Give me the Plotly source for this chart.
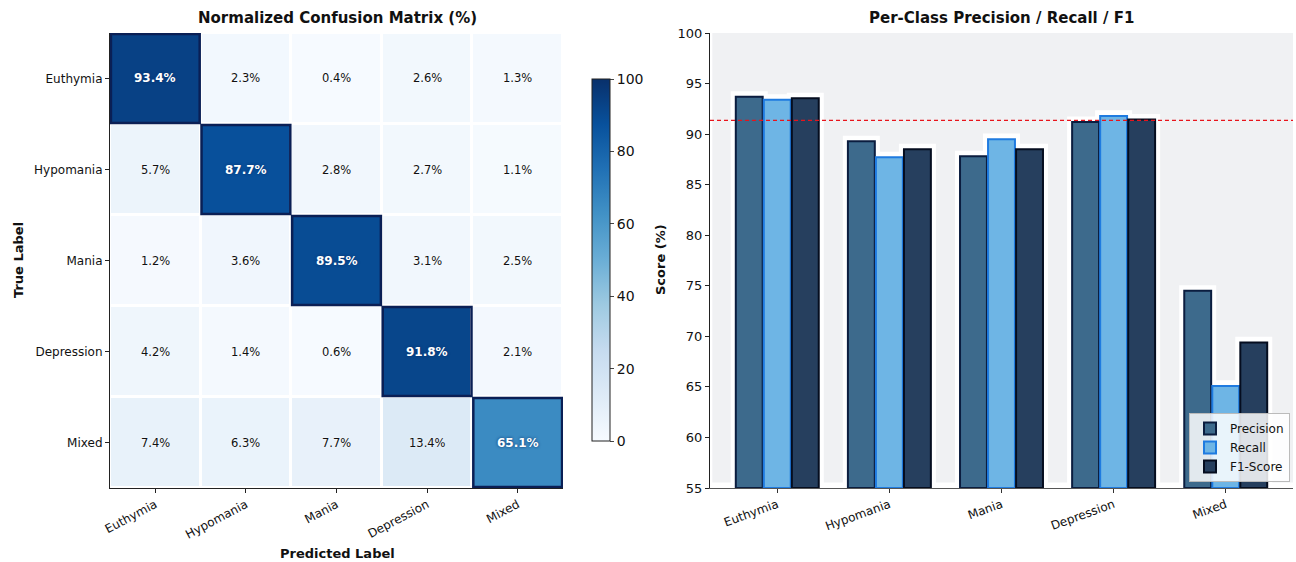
import plotly.graph_objects as go
import plotly.express as px

classes = ["Euthymia", "Hypomania", "Mania", "Depression", "Mixed"]

# Row-normalised confusion matrix (%), rows = true label, cols = predicted label
cm_euthymia = [93.4, 2.3, 0.4, 2.6, 1.3]
cm_hypomania = [5.7, 87.7, 2.8, 2.7, 1.1]
cm_mania = [1.2, 3.6, 89.5, 3.1, 2.5]
cm_depression = [4.2, 1.4, 0.6, 91.8, 2.1]
cm_mixed = [7.4, 6.3, 7.7, 13.4, 65.1]
cm = [cm_euthymia, cm_hypomania, cm_mania, cm_depression, cm_mixed]

precision = [93.7, 89.3, 87.8, 91.2, 74.5]
recall = [93.4, 87.7, 89.5, 91.8, 65.1]
f1_score = [93.55, 88.5, 88.5, 91.45, 69.4]
overall_accuracy = 91.35

colorbar_ticks = [0, 20, 40, 60, 80, 100]
score_ticks = [55, 60, 65, 70, 75, 80, 85, 90, 95, 100]

FONT = "DejaVu Sans"
W, H = 1296, 562


def px_x(p):
    return p / W


def px_y(p):
    return 1 - p / H


fig = go.Figure()

# ---------------- confusion matrix ----------------
fig.add_trace(go.Heatmap(
    z=cm, x=list(range(5)), y=list(range(5)),
    colorscale=px.colors.sequential.Blues, zmin=0, zmax=100,
    xgap=3, ygap=3, xaxis="x", yaxis="y", hoverinfo="skip",
    colorbar=dict(
        x=px_x(592), xanchor="left", thickness=18, thicknessmode="pixels",
        len=362 / H, lenmode="fraction", y=px_y(260), yanchor="middle",
        xpad=0, ypad=0,
        outlinewidth=1, outlinecolor="#222", tickvals=colorbar_ticks,
        ticks="outside", ticklen=4, tickfont=dict(family=FONT, size=14, color="#111"),
    ),
))

annotations = []
shapes = []
for i, row in enumerate(cm):
    for j, v in enumerate(row):
        diag = i == j
        annotations.append(dict(
            x=j, y=i, xref="x", yref="y", text=f"<b>{v:.1f}%</b>" if diag else f"{v:.1f}%",
            showarrow=False,
            font=dict(family=FONT, size=12 if diag else 11.5,
                      color="white" if diag else "#111",
                      shadow="0px 0px 3px #08306b" if diag else "0px 0px 3px white"),
        ))
    shapes.append(dict(type="rect", xref="x", yref="y",
                       x0=i - 0.49, x1=i + 0.49, y0=i - 0.49, y1=i + 0.49,
                       line=dict(color="#0a1f55", width=2.5)))

# ---------------- precision / recall / F1 bars ----------------
offsets = [-0.25, 0.0, 0.25]
bar_w = 0.24
series = [
    ("Precision", precision, "#3d6a8c", "#0b1d3f"),
    ("Recall", recall, "#6eb5e5", "#1f7be0"),
    ("F1-Score", f1_score, "#263f5e", "#050d1f"),
]

# white halo behind each bar
for k, (name, vals, fill, edge) in enumerate(series):
    fig.add_trace(go.Bar(
        x=[c + offsets[k] for c in range(5)], y=[v - 55 + 0.55 for v in vals], base=55,
        width=bar_w + 0.09, marker=dict(color="white", line=dict(width=0)),
        showlegend=False, hoverinfo="skip", xaxis="x2", yaxis="y2",
    ))

for k, (name, vals, fill, edge) in enumerate(series):
    fig.add_trace(go.Bar(
        x=[c + offsets[k] for c in range(5)], y=[v - 55 for v in vals], base=55,
        width=bar_w, name=name,
        marker=dict(color=fill, line=dict(color=edge, width=2)),
        xaxis="x2", yaxis="y2",
    ))

shapes.append(dict(type="line", xref="x2 domain", yref="y2", x0=0, x1=1,
                   y0=overall_accuracy, y1=overall_accuracy,
                   line=dict(color="#e8141c", width=1.2, dash="4px,3px")))

# titles and axis labels
def label(text, x, y, size, angle=0):
    return dict(text=text, x=px_x(x), y=px_y(y), xref="paper", yref="paper",
                xanchor="center", yanchor="middle", textangle=angle, showarrow=False,
                font=dict(family=FONT, size=size, color="#111"))


annotations += [
    label("<b>Normalized Confusion Matrix (%)</b>", 337, 18, 15),
    label("<b>Per-Class Precision / Recall / F1</b>", 1001, 18, 15),
    label("<b>True Label</b>", 18, 260, 13, -90),
    label("<b>Predicted Label</b>", 337, 553, 13),
    label("<b>Score (%)</b>", 660, 260, 13, -90),
]

tickfont = dict(family=FONT, size=12, color="#111")
fig.update_layout(
    width=W, height=H, margin=dict(l=0, r=0, t=0, b=0, pad=0, autoexpand=False),
    paper_bgcolor="white", plot_bgcolor="white",
    font=dict(family=FONT, color="#111"),
    barmode="overlay",
    xaxis=dict(domain=[px_x(110), px_x(563)], range=[-0.5, 4.5], automargin=False,
               tickvals=list(range(5)), ticktext=classes, tickangle=-28,
               showline=True, linecolor="#222", linewidth=1.2, ticks="outside",
               ticklen=4, tickcolor="#222", showgrid=False, zeroline=False, tickfont=tickfont),
    yaxis=dict(domain=[px_y(488), px_y(33)], range=[4.5, -0.5], automargin=False,
               tickvals=list(range(5)), ticktext=classes,
               showline=True, linecolor="#222", linewidth=1.2, ticks="outside",
               ticklen=4, tickcolor="#222", showgrid=False, zeroline=False, tickfont=tickfont),
    xaxis2=dict(domain=[px_x(710), px_x(1293)], range=[-0.6, 4.6], anchor="y2", automargin=False,
                tickvals=list(range(5)), ticktext=classes, tickangle=-20,
                showline=True, linecolor="#555", linewidth=1.2, ticks="outside",
                ticklen=4, tickcolor="#333", showgrid=False, zeroline=False, tickfont=tickfont),
    yaxis2=dict(domain=[px_y(488), px_y(33)], range=[55, 100], anchor="x2", automargin=False,
                tickvals=score_ticks, showline=True, linecolor="#222", linewidth=1.2,
                ticks="outside", ticklen=4, tickcolor="#222", showgrid=False,
                zeroline=False, tickfont=dict(family=FONT, size=13, color="#111")),
    legend=dict(x=px_x(1290), xanchor="right", y=px_y(482), yanchor="bottom",
                bgcolor="rgba(255,255,255,0.85)", bordercolor="#bbb", borderwidth=1,
                font=dict(family=FONT, size=12, color="#111"),
                tracegroupgap=0, itemwidth=30),
    annotations=annotations,
    shapes=shapes,
)

# grey panel behind the bar chart
fig.add_shape(type="rect", xref="x2 domain", yref="y2 domain", x0=0.004, x1=1, y0=0.012, y1=1,
              fillcolor="#f0f1f3", line=dict(width=0), layer="below")

fig.write_html("out.html")
